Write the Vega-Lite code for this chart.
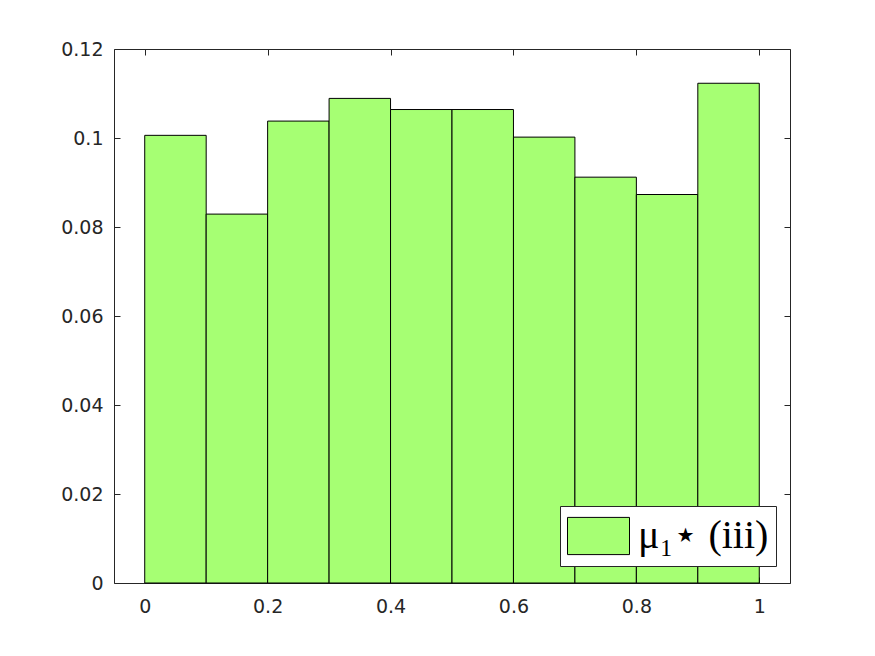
{
  "$schema": "https://vega.github.io/schema/vega-lite/v6.json",
  "width": 676,
  "height": 534,
  "autosize": "none",
  "padding": {"left": 114, "top": 49, "right": 85, "bottom": 73},
  "background": "white",
  "data": {
    "values": [
      {"bin_start": 0.0, "bin_end": 0.1, "value": 0.1006, "series": "μ₁⋆ (iii)"},
      {"bin_start": 0.1, "bin_end": 0.2, "value": 0.0829, "series": "μ₁⋆ (iii)"},
      {"bin_start": 0.2, "bin_end": 0.3, "value": 0.1038, "series": "μ₁⋆ (iii)"},
      {"bin_start": 0.3, "bin_end": 0.4, "value": 0.1089, "series": "μ₁⋆ (iii)"},
      {"bin_start": 0.4, "bin_end": 0.5, "value": 0.1064, "series": "μ₁⋆ (iii)"},
      {"bin_start": 0.5, "bin_end": 0.6, "value": 0.1064, "series": "μ₁⋆ (iii)"},
      {"bin_start": 0.6, "bin_end": 0.7, "value": 0.1002, "series": "μ₁⋆ (iii)"},
      {"bin_start": 0.7, "bin_end": 0.8, "value": 0.0912, "series": "μ₁⋆ (iii)"},
      {"bin_start": 0.8, "bin_end": 0.9, "value": 0.0873, "series": "μ₁⋆ (iii)"},
      {"bin_start": 0.9, "bin_end": 1.0, "value": 0.1123, "series": "μ₁⋆ (iii)"}
    ]
  },
  "config": {
    "view": {"stroke": null},
    "axis": {
      "domainColor": "#262626",
      "tickColor": "#262626",
      "labelColor": "#262626",
      "labelFont": "DejaVu Sans",
      "labelFontSize": 19,
      "grid": false,
      "title": null,
      "tickSize": -6,
      "domainWidth": 1,
      "tickWidth": 1
    }
  },
  "layer": [
    {
      "mark": {"type": "bar", "stroke": "black", "strokeWidth": 1, "opacity": 1},
      "encoding": {
        "x": {
          "field": "bin_start", "type": "quantitative",
          "scale": {"domain": [-0.05, 1.05], "nice": false, "zero": false},
          "axis": {"orient": "bottom", "values": [0, 0.2, 0.4, 0.6, 0.8, 1], "format": ".1~f", "labelPadding": 20}
        },
        "x2": {"field": "bin_end"},
        "y": {
          "field": "value", "type": "quantitative",
          "scale": {"domain": [0, 0.12], "nice": false},
          "axis": {"orient": "left", "values": [0, 0.02, 0.04, 0.06, 0.08, 0.1, 0.12], "format": ".2~f", "labelPadding": 17}
        },
        "y2": {"datum": 0},
        "color": {
          "field": "series", "type": "nominal",
          "scale": {"range": ["#a6ff73"]},
          "legend": {
            "orient": "none",
            "legendX": 446,
            "legendY": 457,
            "title": null,
            "strokeColor": "#262626",
            "fillColor": "white",
            "padding": 7,
            "clipHeight": 46,
            "labelFont": "Liberation Serif",
            "labelFontSize": 40,
            "labelColor": "black",
            "labelOffset": 8,
            "labelLimit": 400,
            "symbolType": "M-1,-0.6H1V0.6H-1Z",
            "symbolSize": 3844,
            "symbolStrokeColor": "black",
            "symbolStrokeWidth": 1,
            "symbolOpacity": 1
          }
        }
      }
    },
    {
      "mark": {"type": "point", "opacity": 0},
      "encoding": {
        "x": {
          "field": "bin_start", "type": "quantitative",
          "scale": {"domain": [-0.05, 1.05], "nice": false, "zero": false},
          "axis": {"orient": "top", "values": [0, 0.2, 0.4, 0.6, 0.8, 1], "labels": false}
        },
        "y": {
          "field": "value", "type": "quantitative",
          "scale": {"domain": [0, 0.12], "nice": false},
          "axis": {"orient": "right", "values": [0, 0.02, 0.04, 0.06, 0.08, 0.1, 0.12], "labels": false}
        }
      }
    }
  ],
  "resolve": {"axis": {"x": "independent", "y": "independent"}}
}
